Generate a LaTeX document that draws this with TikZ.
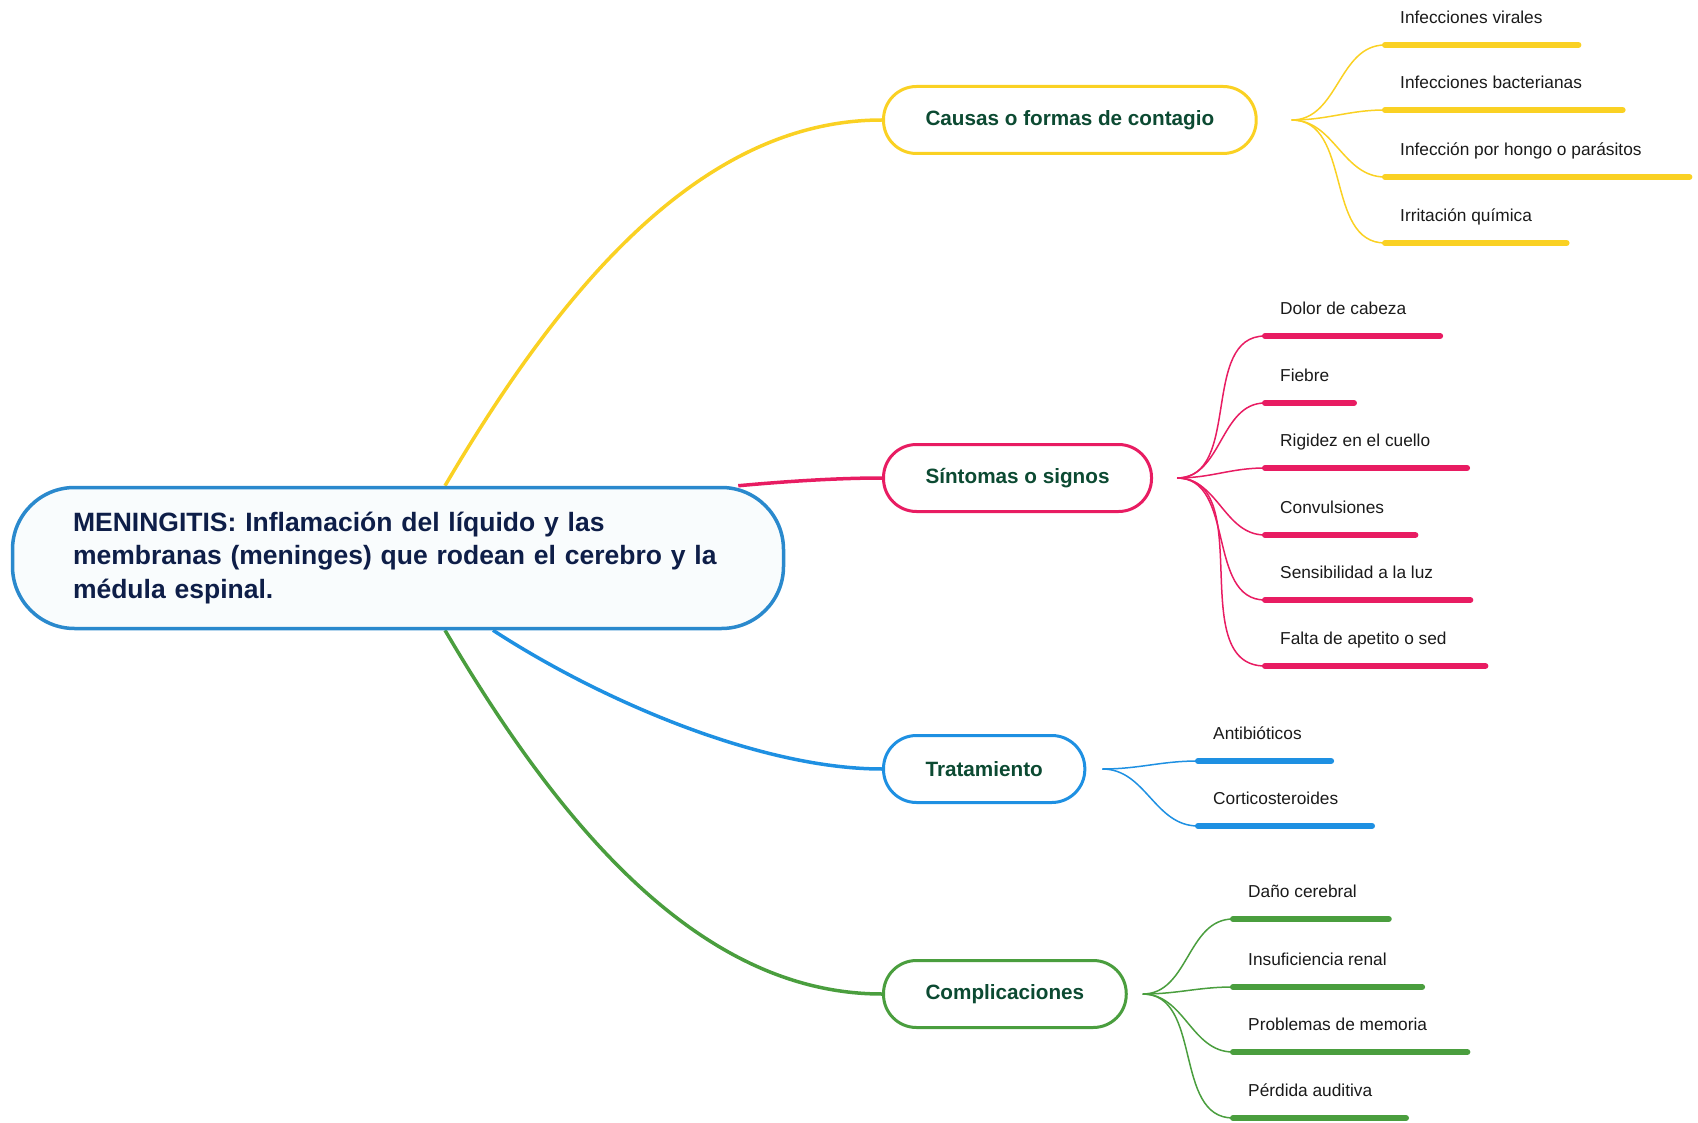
\documentclass[tikz,border=0pt]{standalone}
\usepackage{fontspec}
\setmainfont{Liberation Sans}
\usetikzlibrary{calc,backgrounds}

\definecolor{yel}{RGB}{250,209,35}
\definecolor{pnk}{RGB}{232,28,98}
\definecolor{blu}{RGB}{30,144,226}
\definecolor{grn}{RGB}{74,158,62}
\definecolor{cenblu}{RGB}{42,137,205}
\definecolor{cenfill}{RGB}{249,252,253}
\definecolor{navy}{RGB}{14,30,72}
\definecolor{dkgreen}{RGB}{12,74,50}
\definecolor{leaftext}{RGB}{26,26,26}

\tikzset{
  topic/.style={draw=#1, line width=3, fill=white, rounded corners=33, minimum height=67,
    inner xsep=42, anchor=west, text=dkgreen, font=\fontsize{20.7}{24}\selectfont\bfseries},
  branch/.style={draw=#1, line width=3.5},
  twig/.style={draw=#1, line width=1.5},
  leaf/.style={anchor=south west, inner xsep=15, inner ysep=17, text height=13, text depth=4,
    text=leaftext, font=\fontsize{17.3}{21}\selectfont,
    append after command={(\tikzlastnode.south west) edge[draw=#1, line width=6, line cap=round]
      ($(\tikzlastnode.south west)!1.12!(\tikzlastnode.south east)$)}}
}

\begin{document}
\begin{tikzpicture}[x=1pt, y=-1pt]
  \useasboundingbox (0,0) rectangle (1698,1123);

  % central idea
  \node[draw=cenblu, line width=3.5, fill=cenfill, rounded corners=62, minimum width=771,
    minimum height=141, text width=650, align=left, text=navy,
    font=\fontsize{26.5}{33.5}\selectfont\bfseries] (men) at (398,558)
    {MENINGITIS: Inflamación del líquido y las\\
     membranas (meninges) que rodean el cerebro y la\\
     médula espinal.};

  % main topics
  \node[topic=yel] (cau) at (882,120) {Causas o formas de contagio};
  \node[topic=pnk] (sin) at (882,478) {Síntomas o signos};
  \node[topic=blu] (tra) at (882,769) {Tratamiento};
  \node[topic=grn] (com) at (882,994) {Complicaciones};

  \coordinate (caufork) at ([xshift=34]cau.east);
  \coordinate (sinfork) at ([xshift=24]sin.east);
  \coordinate (trafork) at ([xshift=16]tra.east);
  \coordinate (comfork) at ([xshift=15]com.east);

  % causas
  \node[leaf=yel] (vir) at (1385,45) {Infecciones virales};
  \node[leaf=yel] (bac) at (1385,110) {Infecciones bacterianas};
  \node[leaf=yel] (hon) at (1385,177) {Infección por hongo o parásitos};
  \node[leaf=yel] (qui) at (1385,243) {Irritación química};

  % sintomas
  \node[leaf=pnk] (dol) at (1265,336) {Dolor de cabeza};
  \node[leaf=pnk] (fie) at (1265,403) {Fiebre};
  \node[leaf=pnk] (rig) at (1265,468) {Rigidez en el cuello};
  \node[leaf=pnk] (con) at (1265,535) {Convulsiones};
  \node[leaf=pnk] (sen) at (1265,600) {Sensibilidad a la luz};
  \node[leaf=pnk] (fal) at (1265,666) {Falta de apetito o sed};

  % tratamiento
  \node[leaf=blu] (ant) at (1198,761) {Antibióticos};
  \node[leaf=blu] (cor) at (1198,826) {Corticosteroides};

  % complicaciones
  \node[leaf=grn] (dan) at (1233,919) {Daño cerebral};
  \node[leaf=grn] (ins) at (1233,987) {Insuficiencia renal};
  \node[leaf=grn] (mem) at (1233,1052) {Problemas de memoria};
  \node[leaf=grn] (aud) at (1233,1118) {Pérdida auditiva};

  \begin{scope}[on background layer]
    % branches from the centre
    \draw[branch=yel] ([xshift=47]men.north) .. controls (560,290) and (700,120) .. (cau.west);
    \draw[branch=pnk] ([xshift=-47]men.north east) .. controls (790,481) and (840,478) .. (sin.west);
    \draw[branch=blu] ([xshift=95]men.south) .. controls (600,700) and (760,769) .. (tra.west);
    \draw[branch=grn] ([xshift=47]men.south) .. controls (560,826) and (700,994) .. (com.west);

    % twigs
    \draw[twig=yel] (caufork) to[out=0,in=180] (vir.south west);
    \draw[twig=yel] (caufork) to[out=0,in=180] (bac.south west);
    \draw[twig=yel] (caufork) to[out=0,in=180] (hon.south west);
    \draw[twig=yel] (caufork) to[out=0,in=180] (qui.south west);

    \draw[twig=pnk] (sinfork) to[out=0,in=180] (dol.south west);
    \draw[twig=pnk] (sinfork) to[out=0,in=180] (fie.south west);
    \draw[twig=pnk] (sinfork) to[out=0,in=180] (rig.south west);
    \draw[twig=pnk] (sinfork) to[out=0,in=180] (con.south west);
    \draw[twig=pnk] (sinfork) to[out=0,in=180] (sen.south west);
    \draw[twig=pnk] (sinfork) to[out=0,in=180] (fal.south west);

    \draw[twig=blu] (trafork) to[out=0,in=180] (ant.south west);
    \draw[twig=blu] (trafork) to[out=0,in=180] (cor.south west);

    \draw[twig=grn] (comfork) to[out=0,in=180] (dan.south west);
    \draw[twig=grn] (comfork) to[out=0,in=180] (ins.south west);
    \draw[twig=grn] (comfork) to[out=0,in=180] (mem.south west);
    \draw[twig=grn] (comfork) to[out=0,in=180] (aud.south west);
  \end{scope}
\end{tikzpicture}
\end{document}
